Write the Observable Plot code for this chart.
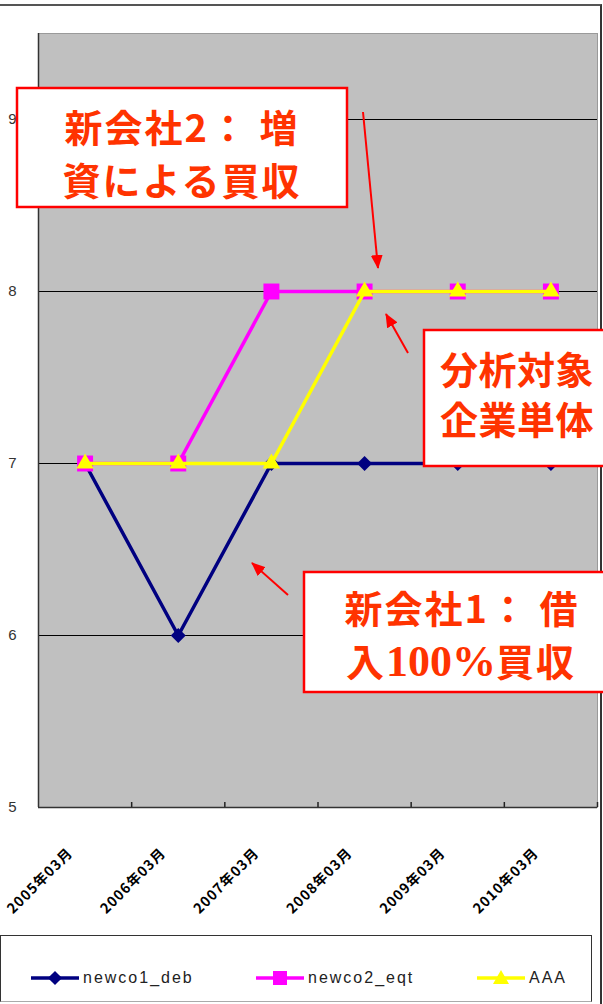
<!DOCTYPE html>
<html><head><meta charset="utf-8">
<script src="https://cdn.jsdelivr.net/npm/d3@7"></script>
<script src="https://cdn.jsdelivr.net/npm/@observablehq/plot@0.6"></script>
<style>
html,body{margin:0;padding:0;background:#fff;}
body{width:603px;height:1004px;overflow:hidden;position:relative;font-family:"Liberation Sans",Arial,sans-serif;}
#chart{position:absolute;left:0;top:0;width:603px;}
#frame{position:absolute;left:-10px;top:4px;width:612px;height:1100px;box-sizing:border-box;border-top:2px solid #555;border-right:2px solid #333;pointer-events:none;}
#legend{position:absolute;left:0;top:935px;width:592px;height:67px;box-sizing:border-box;border:1.5px solid #333;border-bottom-color:#aaa;background:#fff;}
.litem{position:absolute;top:32px;height:20px;display:flex;align-items:center;}
.litem span{font-size:16px;letter-spacing:2px;color:#222;margin-left:4px;}
#overlay{position:absolute;left:0;top:0;pointer-events:none;}
</style></head><body>
<div id="chart"></div>
<div id="frame"></div>
<div id="legend"></div>
<svg id="overlay" width="603" height="1004" viewBox="0 0 603 1004" xmlns="http://www.w3.org/2000/svg">
<defs><marker id="ah" viewBox="0 0 14 12" refX="13" refY="6" markerWidth="14" markerHeight="12" markerUnits="userSpaceOnUse" orient="auto"><path d="M0,0 L14,6 L0,12 Z" fill="#ff0000"/></marker></defs>
<g stroke="#ff0000" stroke-width="2" fill="none">
<line x1="363" y1="112" x2="378" y2="268" marker-end="url(#ah)"/>
<line x1="408" y1="353" x2="386" y2="314" marker-end="url(#ah)"/>
<line x1="288" y1="595" x2="252" y2="563" marker-end="url(#ah)"/>
</g>
<g fill="#fff" stroke="#ff0000" stroke-width="2.5">
<rect x="17" y="88" width="330" height="119"/>
<rect x="424" y="330" width="260" height="136"/>
<rect x="304" y="572" width="330" height="120"/>
</g>
<g font-family="'Noto Sans CJK JP','Noto Sans CJK SC',sans-serif" font-weight="700" font-size="38" fill="#ff3300" letter-spacing="2">
<text x="182" y="142" text-anchor="middle">新会社2： 増</text>
<text x="182" y="195" text-anchor="middle">資による買収</text>
<text x="440" y="384" letter-spacing="0.5">分析対象</text>
<text x="440" y="434" letter-spacing="0.5">企業単体</text>
<text x="462" y="623" text-anchor="middle">新会社1： 借</text>
<text x="461" y="676" text-anchor="middle"><tspan>入</tspan><tspan font-family="'Liberation Serif',serif" font-size="44" letter-spacing="0">100%</tspan><tspan>買収</tspan></text>
</g>
</svg>
<script>
const periods = ["2005年03月","2006年03月","2007年03月","2008年03月","2009年03月","2010年03月"];
const newco1_deb = [7, 6, 7, 7, 7, 7];
const newco2_eqt = [7, 7, 8, 8, 8, 8];
const AAA = [7, 7, 7, 8, 8, 8];
const seriesNames = ["newco1_deb", "newco2_eqt", "AAA"];
const yTicks = [5, 6, 7, 8, 9];
const gridValues = [6, 7, 8, 9];

const colors = {newco1_deb: "#000080", newco2_eqt: "#ff00ff", AAA: "#ffff00"};
const rows = vals => vals.map((v, i) => ({i, v}));
const boundaries = periods.map((_, i) => i + 0.5);

const W = 603, H = 935, mL = 38, mR = 6, mT = 33, mB = 128;
const plotH = H - mT - mB;

const chart = Plot.plot({
  width: W, height: H,
  marginLeft: mL, marginRight: mR, marginTop: mT, marginBottom: mB,
  x: {domain: [-0.5, periods.length - 0.5], axis: null},
  y: {domain: [5, 9.5], axis: null},
  style: {background: "transparent", fontFamily: "'Liberation Sans', Arial, sans-serif", overflow: "visible"},
  marks: [
    Plot.frame({fill: "#c0c0c0", stroke: "#9a9a9a"}),
    Plot.ruleY(gridValues, {stroke: "#000", strokeWidth: 1.2}),
    Plot.ruleX(boundaries, {stroke: "#222", strokeWidth: 1.5, insetTop: plotH - 5}),
    Plot.ruleX([-0.5], {stroke: "#333", strokeWidth: 1.5}),
    Plot.ruleY([5], {stroke: "#333", strokeWidth: 1.5}),
    Plot.text(yTicks, {y: d => d, text: d => String(d), frameAnchor: "left", dx: -22, textAnchor: "end", fontSize: 15, fill: "#333"}),
    Plot.text(periods, {x: (d, i) => i, y: () => 5, text: d => d, textAnchor: "end", fontWeight: "bold", fontSize: 14, fill: "#000"}),
    Plot.line(rows(newco1_deb), {x: "i", y: "v", stroke: colors.newco1_deb, strokeWidth: 3.5}),
    Plot.dot(rows(newco1_deb), {x: "i", y: "v", symbol: "square", rotate: 45, r: 6, fill: colors.newco1_deb}),
    Plot.line(rows(newco2_eqt), {x: "i", y: "v", stroke: colors.newco2_eqt, strokeWidth: 3.5}),
    Plot.dot(rows(newco2_eqt), {x: "i", y: "v", symbol: "square", r: 9, fill: colors.newco2_eqt}),
    Plot.line(rows(AAA), {x: "i", y: "v", stroke: colors.AAA, strokeWidth: 3.5}),
    Plot.dot(rows(AAA), {x: "i", y: "v", symbol: "triangle", r: 6.5, fill: colors.AAA})
  ]
});
document.getElementById("chart").appendChild(chart);

// place the category labels explicitly at 45 degrees, using Plot's own scales
const xs = chart.scale("x"), ys = chart.scale("y");
const yStrings = yTicks.map(String);
chart.querySelectorAll("text").forEach(t => {
  const s = t.textContent;
  const k = periods.indexOf(s);
  if (k >= 0) {
    t.style.fontSize = "14px";
    t.style.fontWeight = "bold";
    t.style.fontFamily = "'Noto Sans CJK JP', sans-serif";
    t.style.letterSpacing = "1px";
    t.removeAttribute("x");
    t.removeAttribute("y");
    t.setAttribute("dy", "0.35em");
    t.setAttribute("transform", `translate(${xs.apply(k) - 15},${ys.apply(5) + 43}) rotate(-45)`);
  } else if (yStrings.includes(s)) {
    t.style.fontSize = "15px";
    t.style.fontFamily = "'Liberation Sans', Arial, sans-serif";
  }
});

// legend
const legendPos = {newco1_deb: 30, newco2_eqt: 255, AAA: 476};
const swatchShape = {
  newco1_deb: '<rect x="19" y="4" width="10" height="10" transform="rotate(45 24 9)"/>',
  newco2_eqt: '<rect x="17" y="2" width="14" height="14"/>',
  AAA: '<path d="M24,1 L32,15 L16,15 Z"/>'
};
const legend = document.getElementById("legend");
for (const name of seriesNames) {
  const item = document.createElement("div");
  item.className = "litem";
  item.style.left = legendPos[name] + "px";
  item.innerHTML = `<svg width="48" height="18"><line x1="0" y1="9" x2="48" y2="9" stroke="${colors[name]}" stroke-width="3.5"/><g fill="${colors[name]}">${swatchShape[name]}</g></svg><span>${name}</span>`;
  legend.appendChild(item);
}
</script>
</body></html>
